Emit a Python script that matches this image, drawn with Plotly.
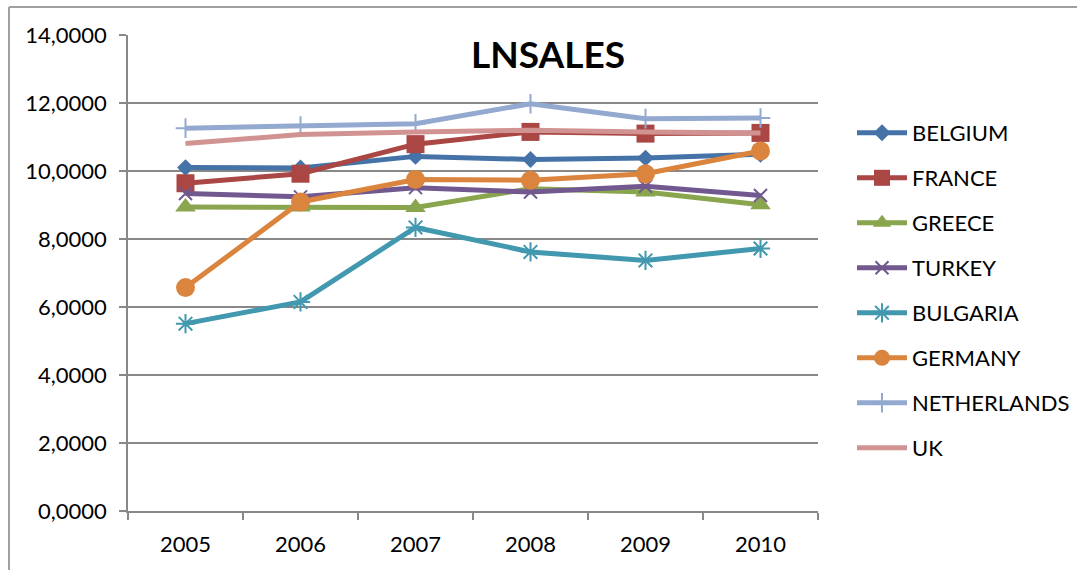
import plotly.graph_objects as go

# LNSALES by country, 2005-2010
years = ["2005", "2006", "2007", "2008", "2009", "2010"]

belgium = [10.10, 10.09, 10.43, 10.34, 10.38, 10.49]
france = [9.64, 9.92, 10.79, 11.15, 11.10, 11.12]
greece = [8.94, 8.94, 8.93, 9.48, 9.38, 9.01]
turkey = [9.34, 9.24, 9.51, 9.38, 9.55, 9.28]
bulgaria = [5.51, 6.15, 8.34, 7.62, 7.37, 7.72]
germany = [6.57, 9.09, 9.75, 9.73, 9.92, 10.59]
netherlands = [11.26, 11.32, 11.39, 11.98, 11.54, 11.56]
uk = [10.81, 11.07, 11.15, 11.20, 11.15, 11.12]

series = [
    ("BELGIUM", belgium, "#4572A7", dict(symbol="diamond", size=13)),
    ("FRANCE", france, "#AA4643", dict(symbol="square", size=18)),
    ("GREECE", greece, "#89A54E", dict(symbol="triangle-up", size=18)),
    ("TURKEY", turkey, "#71588F", dict(symbol="x-thin", size=13, line=dict(width=2))),
    ("BULGARIA", bulgaria, "#4198AF", dict(symbol="asterisk", size=16, line=dict(width=2))),
    ("GERMANY", germany, "#DB843D", dict(symbol="circle", size=19)),
    ("NETHERLANDS", netherlands, "#93A9CF", dict(symbol="cross-thin", size=14, line=dict(width=2))),
    ("UK", uk, "#D19392", None),
]

FONT = "Lato, 'Open Sans', sans-serif"
GRID = "#888888"

fig = go.Figure()
for name, vals, color, marker in series:
    kw = {}
    if marker is None:
        kw["mode"] = "lines"
    else:
        m = dict(marker)
        m["color"] = color
        if "line" in m:
            m["line"] = dict(m["line"], color=color)
        kw["mode"] = "lines+markers"
        kw["marker"] = m
    fig.add_trace(go.Scatter(
        x=years, y=vals, name=name, legendgroup=name,
        line=dict(color=color, width=5), **kw
    ))

W, H = 1077, 570
L, R, T, B = 128, 259, 35, 59
pw, ph = W - L - R, H - T - B

def px_x(p):
    return (p - L) / pw

def px_y(p):
    return (H - B - p) / ph

fig.update_layout(
    width=W, height=H,
    margin=dict(l=L, r=R, t=T, b=B, pad=0, autoexpand=False),
    paper_bgcolor="white", plot_bgcolor="white",
    separators=",.",
    font=dict(family=FONT, size=22, color="#000000"),
    title=dict(text="<b>LNSALES</b>", x=548 / W, xanchor="center",
               y=(H - 55) / H, yanchor="middle",
               font=dict(family=FONT, size=37, color="#000000")),
    xaxis=dict(
        type="category", range=[-0.5, 5.5], tickson="boundaries",
        ticks="outside", ticklen=7, tickwidth=1.5, tickcolor=GRID,
        showline=True, linecolor=GRID, linewidth=1.5,
        showgrid=False, zeroline=False, ticklabelstandoff=13,
        tickfont=dict(family=FONT, size=22),
    ),
    yaxis=dict(
        range=[0, 14], dtick=2, tickformat=".4f",
        ticks="outside", ticklen=7, tickwidth=1.5, tickcolor=GRID,
        showline=True, linecolor=GRID, linewidth=1.5,
        showgrid=True, gridcolor=GRID, gridwidth=1.5, zeroline=False,
        ticklabelstandoff=8,
        tickfont=dict(family=FONT, size=22),
    ),
    legend=dict(
        x=px_x(852), y=px_y(112), xanchor="left", yanchor="top",
        font=dict(family=FONT, size=22), tracegroupgap=13.4,
        bgcolor="rgba(0,0,0,0)", itemwidth=50,
    ),
    showlegend=True,
    shapes=[
        # chart-area frame (top and left edges)
        dict(type="line", xref="paper", yref="paper",
             x0=px_x(9), x1=px_x(1080), y0=px_y(7), y1=px_y(7),
             line=dict(color="#A0A0A0", width=2)),
        dict(type="line", xref="paper", yref="paper",
             x0=px_x(9), x1=px_x(9), y0=px_y(7), y1=px_y(575),
             line=dict(color="#A0A0A0", width=2)),
    ],
)

fig.write_html("out.html")
